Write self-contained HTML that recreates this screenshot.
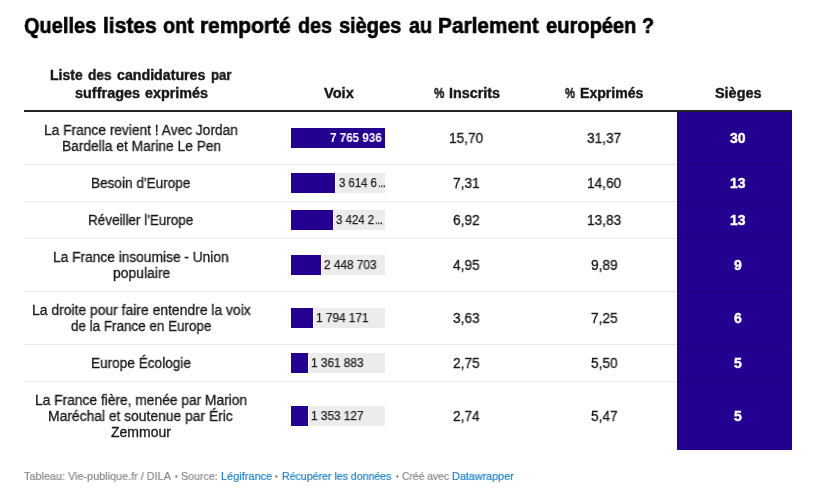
<!DOCTYPE html>
<html lang="fr"><head><meta charset="utf-8"><title>Quelles listes ont remporté des sièges au Parlement européen ?</title>
<style>
html,body{margin:0;padding:0;background:#ffffff}
body{width:816px;height:499px;position:relative;overflow:hidden;font-family:"Liberation Sans",sans-serif}
.r{position:absolute}
.t{position:absolute;white-space:nowrap;transform-origin:0 0;display:block;will-change:transform}
</style></head><body>
<div class="r" style="left:24px;top:110px;width:768px;height:2px;background:#222222"></div>
<div class="r" style="left:677px;top:112px;width:115px;height:53px;background:#23008f"></div>
<div class="r" style="left:291px;top:128px;width:94px;height:20px;background:#23008f"></div>
<div class="r" style="left:677px;top:165px;width:115px;height:37px;background:#23008f"></div>
<div class="r" style="left:335.75px;top:173px;width:49.25px;height:20px;background:#ececec"></div>
<div class="r" style="left:291px;top:173px;width:43.75px;height:20px;background:#23008f"></div>
<div class="r" style="left:677px;top:202px;width:115px;height:37px;background:#23008f"></div>
<div class="r" style="left:333.5px;top:210px;width:51.5px;height:20px;background:#ececec"></div>
<div class="r" style="left:291px;top:210px;width:41.5px;height:20px;background:#23008f"></div>
<div class="r" style="left:677px;top:239px;width:115px;height:53px;background:#23008f"></div>
<div class="r" style="left:321.75px;top:255px;width:63.25px;height:20px;background:#ececec"></div>
<div class="r" style="left:291px;top:255px;width:29.75px;height:20px;background:#23008f"></div>
<div class="r" style="left:677px;top:292px;width:115px;height:53px;background:#23008f"></div>
<div class="r" style="left:313.75px;top:308px;width:71.25px;height:20px;background:#ececec"></div>
<div class="r" style="left:291px;top:308px;width:21.75px;height:20px;background:#23008f"></div>
<div class="r" style="left:677px;top:345px;width:115px;height:37px;background:#23008f"></div>
<div class="r" style="left:308.5px;top:353px;width:76.5px;height:20px;background:#ececec"></div>
<div class="r" style="left:291px;top:353px;width:16.5px;height:20px;background:#23008f"></div>
<div class="r" style="left:677px;top:382px;width:115px;height:68px;background:#23008f"></div>
<div class="r" style="left:308.5px;top:406px;width:76.5px;height:20px;background:#ececec"></div>
<div class="r" style="left:291px;top:406px;width:16.5px;height:20px;background:#23008f"></div>
<div class="r" style="left:24px;top:164px;width:768px;height:1px;background:rgba(0,0,0,0.08)"></div>
<div class="r" style="left:24px;top:201px;width:768px;height:1px;background:rgba(0,0,0,0.08)"></div>
<div class="r" style="left:24px;top:238px;width:768px;height:1px;background:rgba(0,0,0,0.08)"></div>
<div class="r" style="left:24px;top:291px;width:768px;height:1px;background:rgba(0,0,0,0.08)"></div>
<div class="r" style="left:24px;top:344px;width:768px;height:1px;background:rgba(0,0,0,0.08)"></div>
<div class="r" style="left:24px;top:381px;width:768px;height:1px;background:rgba(0,0,0,0.08)"></div>
<span class="t" style="left:24.25px;top:13.18px;font-size:22px;line-height:26px;font-weight:700;-webkit-text-stroke:0.6px;color:#000000;transform:scaleX(0.9086)">Quelles</span>
<span class="t" style="left:102.80px;top:13.18px;font-size:22px;line-height:26px;font-weight:700;-webkit-text-stroke:0.6px;color:#000000;transform:scaleX(0.9542)">listes</span>
<span class="t" style="left:162.50px;top:13.18px;font-size:22px;line-height:26px;font-weight:700;-webkit-text-stroke:0.6px;color:#000000;transform:scaleX(0.8960)">ont</span>
<span class="t" style="left:199.55px;top:13.18px;font-size:22px;line-height:26px;font-weight:700;-webkit-text-stroke:0.6px;color:#000000;transform:scaleX(0.9509)">remporté</span>
<span class="t" style="left:297.50px;top:13.18px;font-size:22px;line-height:26px;font-weight:700;-webkit-text-stroke:0.6px;color:#000000;transform:scaleX(0.8958)">des</span>
<span class="t" style="left:338.75px;top:13.18px;font-size:22px;line-height:26px;font-weight:700;-webkit-text-stroke:0.6px;color:#000000;transform:scaleX(0.9083)">sièges</span>
<span class="t" style="left:408.75px;top:13.18px;font-size:22px;line-height:26px;font-weight:700;-webkit-text-stroke:0.6px;color:#000000;transform:scaleX(0.8974)">au</span>
<span class="t" style="left:437.80px;top:13.18px;font-size:22px;line-height:26px;font-weight:700;-webkit-text-stroke:0.6px;color:#000000;transform:scaleX(0.9476)">Parlement</span>
<span class="t" style="left:546.25px;top:13.18px;font-size:22px;line-height:26px;font-weight:700;-webkit-text-stroke:0.6px;color:#000000;transform:scaleX(0.9129)">européen</span>
<span class="t" style="left:642.10px;top:13.18px;font-size:22px;line-height:26px;font-weight:700;-webkit-text-stroke:0.6px;color:#000000;transform:scaleX(0.8958)">?</span>
<span class="t" style="left:50.25px;top:67.05px;font-size:14px;line-height:17px;font-weight:700;-webkit-text-stroke:0.4px;color:#181818;transform:scaleX(0.9958)">Liste</span>
<span class="t" style="left:87.75px;top:67.05px;font-size:14px;line-height:17px;font-weight:700;-webkit-text-stroke:0.4px;color:#181818;transform:scaleX(0.9758)">des</span>
<span class="t" style="left:116.50px;top:67.05px;font-size:14px;line-height:17px;font-weight:700;-webkit-text-stroke:0.4px;color:#181818;transform:scaleX(1.0143)">candidatures</span>
<span class="t" style="left:211.00px;top:67.05px;font-size:14px;line-height:17px;font-weight:700;-webkit-text-stroke:0.4px;color:#181818;transform:scaleX(0.9401)">par</span>
<span class="t" style="left:74.60px;top:84.85px;font-size:14px;line-height:17px;font-weight:700;-webkit-text-stroke:0.4px;color:#181818;transform:scaleX(1.0327)">suffrages</span>
<span class="t" style="left:144.75px;top:84.85px;font-size:14px;line-height:17px;font-weight:700;-webkit-text-stroke:0.4px;color:#181818;transform:scaleX(1.0236)">exprimés</span>
<span class="t" style="left:323.50px;top:85.05px;font-size:14px;line-height:17px;font-weight:700;-webkit-text-stroke:0.4px;color:#181818;transform:scaleX(1.0438)">Voix</span>
<span class="t" style="left:433.50px;top:85.05px;font-size:14px;line-height:17px;font-weight:700;-webkit-text-stroke:0.4px;color:#181818;transform:scaleX(0.8385)">%</span>
<span class="t" style="left:448.75px;top:85.05px;font-size:14px;line-height:17px;font-weight:700;-webkit-text-stroke:0.4px;color:#181818;transform:scaleX(1.0247)">Inscrits</span>
<span class="t" style="left:565.25px;top:85.05px;font-size:14px;line-height:17px;font-weight:700;-webkit-text-stroke:0.4px;color:#181818;transform:scaleX(0.7962)">%</span>
<span class="t" style="left:580.40px;top:85.05px;font-size:14px;line-height:17px;font-weight:700;-webkit-text-stroke:0.4px;color:#181818;transform:scaleX(1.0056)">Exprimés</span>
<span class="t" style="left:714.80px;top:85.05px;font-size:14px;line-height:17px;font-weight:700;-webkit-text-stroke:0.4px;color:#181818;transform:scaleX(1.0297)">Sièges</span>
<span class="t" style="left:43.72px;top:122.35px;font-size:14px;line-height:17px;-webkit-text-stroke:0.3px;color:#181818;transform:scaleX(0.9822)">La France revient ! Avec Jordan</span>
<span class="t" style="left:61.62px;top:138.35px;font-size:14px;line-height:17px;-webkit-text-stroke:0.3px;color:#181818;transform:scaleX(0.9832)">Bardella et Marine Le Pen</span>
<span class="t" style="left:91.03px;top:175.25px;font-size:14px;line-height:17px;-webkit-text-stroke:0.3px;color:#181818;transform:scaleX(0.9713)">Besoin d&#x27;Europe</span>
<span class="t" style="left:88.04px;top:212.25px;font-size:14px;line-height:17px;-webkit-text-stroke:0.3px;color:#181818;transform:scaleX(0.9632)">Réveiller l&#x27;Europe</span>
<span class="t" style="left:53.42px;top:249.25px;font-size:14px;line-height:17px;-webkit-text-stroke:0.3px;color:#181818;transform:scaleX(0.9809)">La France insoumise - Union</span>
<span class="t" style="left:112.60px;top:265.25px;font-size:14px;line-height:17px;-webkit-text-stroke:0.3px;color:#181818;transform:scaleX(0.9928)">populaire</span>
<span class="t" style="left:31.61px;top:302.25px;font-size:14px;line-height:17px;-webkit-text-stroke:0.3px;color:#181818;transform:scaleX(0.9929)">La droite pour faire entendre la voix</span>
<span class="t" style="left:70.60px;top:318.25px;font-size:14px;line-height:17px;-webkit-text-stroke:0.3px;color:#181818;transform:scaleX(0.9595)">de la France en Europe</span>
<span class="t" style="left:91.03px;top:355.25px;font-size:14px;line-height:17px;-webkit-text-stroke:0.3px;color:#181818;transform:scaleX(0.9730)">Europe Écologie</span>
<span class="t" style="left:35.22px;top:392.25px;font-size:14px;line-height:17px;-webkit-text-stroke:0.3px;color:#181818;transform:scaleX(0.9838)">La France fière, menée par Marion</span>
<span class="t" style="left:48.41px;top:408.25px;font-size:14px;line-height:17px;-webkit-text-stroke:0.3px;color:#181818;transform:scaleX(0.9894)">Maréchal et soutenue par Éric</span>
<span class="t" style="left:111.20px;top:424.25px;font-size:14px;line-height:17px;-webkit-text-stroke:0.3px;color:#181818;transform:scaleX(1.0011)">Zemmour</span>
<span class="t" style="left:330.20px;top:130.84px;font-size:12px;line-height:14px;font-weight:700;color:#ffffff;transform:scaleX(0.9700)">7 765 936</span>
<span class="t" style="left:449.13px;top:130.05px;font-size:14px;line-height:17px;-webkit-text-stroke:0.3px;color:#181818;transform:scaleX(0.9750)">15,70</span>
<span class="t" style="left:587.22px;top:130.05px;font-size:14px;line-height:17px;-webkit-text-stroke:0.3px;color:#181818;transform:scaleX(0.9750)">31,37</span>
<span class="t" style="left:730.31px;top:130.05px;font-size:14px;line-height:17px;font-weight:700;-webkit-text-stroke:0.4px;color:#ffffff;transform:scaleX(1.0000)">30</span>
<span class="t" style="left:338.50px;top:175.84px;font-size:12px;line-height:14px;-webkit-text-stroke:0.25px;color:#222222;transform:scaleX(0.9464)">3 614 6</span>
<span class="t" style="left:377.66px;top:175.84px;font-size:12px;line-height:14px;-webkit-text-stroke:0.25px;color:#111111;transform:scaleX(0.7384)">...</span>
<span class="t" style="left:453.41px;top:175.05px;font-size:14px;line-height:17px;-webkit-text-stroke:0.3px;color:#181818;transform:scaleX(0.9750)">7,31</span>
<span class="t" style="left:586.73px;top:175.05px;font-size:14px;line-height:17px;-webkit-text-stroke:0.3px;color:#181818;transform:scaleX(0.9750)">14,60</span>
<span class="t" style="left:730.31px;top:175.05px;font-size:14px;line-height:17px;font-weight:700;-webkit-text-stroke:0.4px;color:#ffffff;transform:scaleX(1.0000)">13</span>
<span class="t" style="left:336.00px;top:212.84px;font-size:12px;line-height:14px;-webkit-text-stroke:0.25px;color:#222222;transform:scaleX(0.9538)">3 424 2</span>
<span class="t" style="left:375.25px;top:212.84px;font-size:12px;line-height:14px;-webkit-text-stroke:0.25px;color:#111111;transform:scaleX(0.7499)">...</span>
<span class="t" style="left:453.41px;top:212.05px;font-size:14px;line-height:17px;-webkit-text-stroke:0.3px;color:#181818;transform:scaleX(0.9750)">6,92</span>
<span class="t" style="left:586.73px;top:212.05px;font-size:14px;line-height:17px;-webkit-text-stroke:0.3px;color:#181818;transform:scaleX(0.9750)">13,83</span>
<span class="t" style="left:730.31px;top:212.05px;font-size:14px;line-height:17px;font-weight:700;-webkit-text-stroke:0.4px;color:#ffffff;transform:scaleX(1.0000)">13</span>
<span class="t" style="left:324.04px;top:257.84px;font-size:12px;line-height:14px;-webkit-text-stroke:0.25px;color:#222222;transform:scaleX(0.9850)">2 448 703</span>
<span class="t" style="left:453.41px;top:257.05px;font-size:14px;line-height:17px;-webkit-text-stroke:0.3px;color:#181818;transform:scaleX(0.9750)">4,95</span>
<span class="t" style="left:591.01px;top:257.05px;font-size:14px;line-height:17px;-webkit-text-stroke:0.3px;color:#181818;transform:scaleX(0.9750)">9,89</span>
<span class="t" style="left:734.20px;top:257.05px;font-size:14px;line-height:17px;font-weight:700;-webkit-text-stroke:0.4px;color:#ffffff;transform:scaleX(1.0000)">9</span>
<span class="t" style="left:316.12px;top:310.84px;font-size:12px;line-height:14px;-webkit-text-stroke:0.25px;color:#222222;transform:scaleX(0.9850)">1 794 171</span>
<span class="t" style="left:453.41px;top:310.05px;font-size:14px;line-height:17px;-webkit-text-stroke:0.3px;color:#181818;transform:scaleX(0.9750)">3,63</span>
<span class="t" style="left:591.01px;top:310.05px;font-size:14px;line-height:17px;-webkit-text-stroke:0.3px;color:#181818;transform:scaleX(0.9750)">7,25</span>
<span class="t" style="left:734.20px;top:310.05px;font-size:14px;line-height:17px;font-weight:700;-webkit-text-stroke:0.4px;color:#ffffff;transform:scaleX(1.0000)">6</span>
<span class="t" style="left:310.88px;top:355.84px;font-size:12px;line-height:14px;-webkit-text-stroke:0.25px;color:#222222;transform:scaleX(0.9850)">1 361 883</span>
<span class="t" style="left:453.41px;top:355.05px;font-size:14px;line-height:17px;-webkit-text-stroke:0.3px;color:#181818;transform:scaleX(0.9750)">2,75</span>
<span class="t" style="left:591.01px;top:355.05px;font-size:14px;line-height:17px;-webkit-text-stroke:0.3px;color:#181818;transform:scaleX(0.9750)">5,50</span>
<span class="t" style="left:734.20px;top:355.05px;font-size:14px;line-height:17px;font-weight:700;-webkit-text-stroke:0.4px;color:#ffffff;transform:scaleX(1.0000)">5</span>
<span class="t" style="left:310.78px;top:408.84px;font-size:12px;line-height:14px;-webkit-text-stroke:0.25px;color:#222222;transform:scaleX(0.9850)">1 353 127</span>
<span class="t" style="left:453.41px;top:408.05px;font-size:14px;line-height:17px;-webkit-text-stroke:0.3px;color:#181818;transform:scaleX(0.9750)">2,74</span>
<span class="t" style="left:591.01px;top:408.05px;font-size:14px;line-height:17px;-webkit-text-stroke:0.3px;color:#181818;transform:scaleX(0.9750)">5,47</span>
<span class="t" style="left:734.20px;top:408.05px;font-size:14px;line-height:17px;font-weight:700;-webkit-text-stroke:0.4px;color:#ffffff;transform:scaleX(1.0000)">5</span>
<span class="t" style="left:23.90px;top:470.29px;font-size:11px;line-height:13px;-webkit-text-stroke:0.2px;color:#888888;transform:scaleX(0.9856)">Tableau: Vie-publique.fr / DILA</span>
<span class="t" style="left:174.90px;top:470.29px;font-size:11px;line-height:13px;-webkit-text-stroke:0.2px;color:#888888;transform:scaleX(0.6750)">•</span>
<span class="t" style="left:181.00px;top:470.29px;font-size:11px;line-height:13px;-webkit-text-stroke:0.2px;color:#888888;transform:scaleX(0.9669)">Source:</span>
<span class="t" style="left:220.80px;top:470.29px;font-size:11px;line-height:13px;-webkit-text-stroke:0.2px;color:#1d81c9;transform:scaleX(0.9951)">Légifrance</span>
<span class="t" style="left:275.10px;top:470.29px;font-size:11px;line-height:13px;-webkit-text-stroke:0.2px;color:#888888;transform:scaleX(0.6750)">•</span>
<span class="t" style="left:281.80px;top:470.29px;font-size:11px;line-height:13px;-webkit-text-stroke:0.2px;color:#1d81c9;transform:scaleX(0.9620)">Récupérer les données</span>
<span class="t" style="left:396.20px;top:470.29px;font-size:11px;line-height:13px;-webkit-text-stroke:0.2px;color:#888888;transform:scaleX(0.6750)">•</span>
<span class="t" style="left:401.60px;top:470.29px;font-size:11px;line-height:13px;-webkit-text-stroke:0.2px;color:#888888;transform:scaleX(0.9361)">Créé avec</span>
<span class="t" style="left:452.30px;top:470.29px;font-size:11px;line-height:13px;-webkit-text-stroke:0.2px;color:#1d81c9;transform:scaleX(0.9808)">Datawrapper</span>
</body></html>
